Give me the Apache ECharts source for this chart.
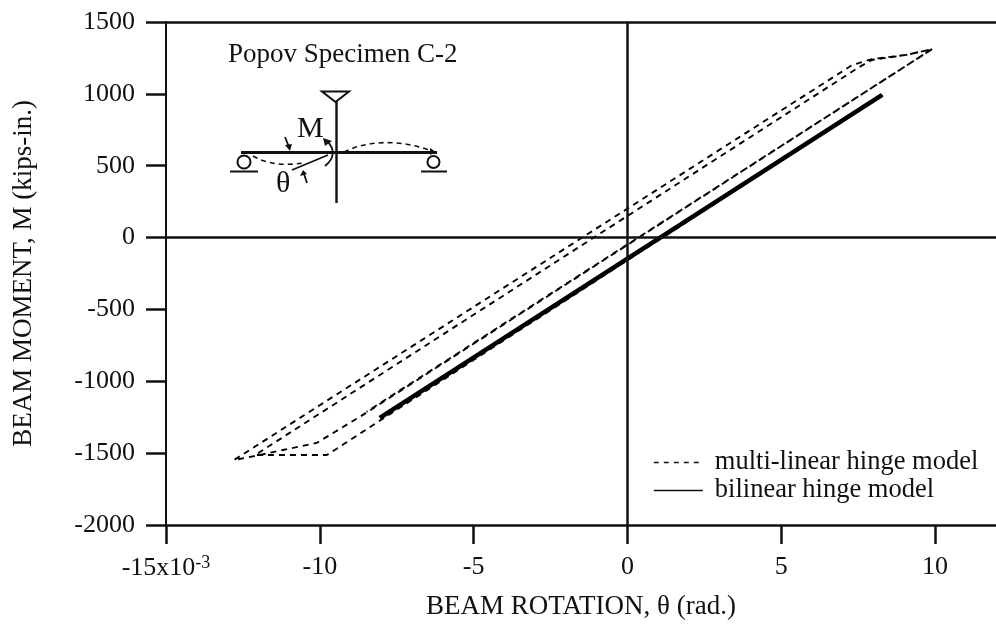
<!DOCTYPE html>
<html>
<head>
<meta charset="utf-8">
<style>html,body{margin:0;padding:0;background:#fff}#c{width:996px;height:625px}</style>
<script src="https://cdn.jsdelivr.net/npm/echarts@6/dist/echarts.min.js"></script>
</head>
<body>
<div id="c"></div>
<script>
const xTicks = [-15, -10, -5, 0, 5, 10];
const yTicks = [-2000, -1500, -1000, -500, 0, 500, 1000, 1500];
const multiTheta = [8.29, -9.77, -12.1, 7.54, 7.95, 9.06, 9.90, -8.60, -10.10, -11.20, -11.95, -12.79, 7.31, 7.95, 9.06, 9.90, -8.48];
const multiMoment = [992, -1513, -1513, 1187, 1236, 1271, 1311, -1234, -1429, -1478, -1513, -1548, 1201, 1242, 1271, 1311, -1212];
const biTheta = [-8.05, 8.28];
const biMoment = [-1255, 993];
const names = ['multi-linear hinge model', 'bilinear hinge model'];

const serif = '"Liberation Serif","Times New Roman",serif';
const ink = '#111';
const pairs = (a, b) => a.map((v, i) => [v, b[i]]);
const ln = (x1, y1, x2, y2, w) => ({ type: 'line', shape: { x1, y1, x2, y2 }, style: { stroke: ink, lineWidth: w || 2 } });
const txt = (x, y, text, size) => ({ type: 'text', x, y, style: { text, font: size + 'px ' + serif, fill: ink, textVerticalAlign: 'bottom' } });
const curve = (x1, y1, cpx1, cpy1, cpx2, cpy2, x2, y2, dash, w) => ({ type: 'bezierCurve', shape: { x1, y1, x2, y2, cpx1, cpy1, cpx2, cpy2 }, style: { stroke: ink, fill: 'none', lineWidth: w || 1.6, lineDash: dash || null } });
const head = (pts) => ({ type: 'polygon', shape: { points: pts }, style: { fill: ink } });

const chart = echarts.init(document.getElementById('c'), null, { renderer: 'canvas' });
chart.setOption({
  animation: false,
  backgroundColor: '#fff',
  grid: { left: 166, right: 0, top: 22, bottom: 100 },
  textStyle: { fontFamily: serif, color: ink },
  legend: {
    orient: 'vertical', left: 648, top: 444, itemWidth: 49, itemHeight: 14, itemGap: 1,
    textStyle: { fontFamily: serif, fontSize: 26.5, color: ink, padding: [0, 0, 0, 7] },
    data: [
      { name: names[0], itemStyle: { opacity: 0 }, lineStyle: { width: 1.4, type: [5, 5], color: ink } },
      { name: names[1], itemStyle: { opacity: 0 }, lineStyle: { width: 1.6, color: ink } }
    ]
  },
  xAxis: [{
    type: 'value', min: -15, max: 11.98, interval: 5, position: 'bottom',
    axisLine: { onZero: false, lineStyle: { color: ink, width: 2.5 } },
    axisTick: { length: 19, lineStyle: { color: ink, width: 2.5 }, customValues: xTicks },
    splitLine: { show: false },
    axisLabel: {
      margin: 29, fontSize: 26, fontFamily: serif, color: ink, customValues: xTicks,
      formatter: v => v === -15 ? '{b|-15x10}{s|-3}' : String(v),
      rich: { b: { fontSize: 26, fontFamily: serif, color: ink }, s: { fontSize: 18, fontFamily: serif, color: ink, padding: [0, 0, 11, 0] } }
    },
    name: 'BEAM ROTATION, θ (rad.)', nameLocation: 'middle', nameGap: 68,
    nameTextStyle: { fontSize: 27, fontFamily: serif, color: ink }
  }, {
    type: 'value', min: -15, max: 11.98, interval: 5, position: 'top',
    axisLine: { onZero: false, lineStyle: { color: ink, width: 2.5 } },
    axisTick: { show: false }, axisLabel: { show: false }, splitLine: { show: false }
  }],
  yAxis: {
    type: 'value', min: -2000, max: 1500, interval: 500, position: 'left',
    axisLine: { onZero: false, lineStyle: { color: ink, width: 2 } },
    axisTick: { length: 20, lineStyle: { color: ink, width: 2.5 } },
    splitLine: { show: false },
    axisLabel: { margin: 31, fontSize: 26, fontFamily: serif, color: ink, customValues: yTicks, formatter: v => String(v) },
    name: 'BEAM MOMENT, M (kips-in.)', nameLocation: 'middle', nameGap: 129,
    nameTextStyle: { fontSize: 27, fontFamily: serif, color: ink }
  },
  series: [{
    name: names[0], type: 'line', showSymbol: false, symbol: 'none', xAxisIndex: 0,
    data: pairs(multiTheta, multiMoment),
    lineStyle: { color: '#000', width: 1.9, type: [6, 5] },
    markLine: {
      silent: true, symbol: 'none', animation: false, label: { show: false },
      lineStyle: { color: ink, width: 2.5, type: 'solid' },
      data: [{ xAxis: 0 }, { yAxis: 0 }]
    }
  }, {
    name: names[1], type: 'line', showSymbol: false, symbol: 'none', xAxisIndex: 0,
    data: pairs(biTheta, biMoment),
    lineStyle: { color: '#000', width: 4.6 }
  }],
  graphic: [
    txt(228, 68, 'Popov Specimen C-2', 27),
    ln(336.5, 101, 336.5, 203, 2.4),
    { type: 'polygon', shape: { points: [[322, 91.5], [349, 91.5], [335.5, 102]] }, style: { stroke: ink, lineWidth: 2, fill: '#fff' } },
    ln(241, 152.5, 437, 152.5, 2.8),
    { type: 'circle', shape: { cx: 244, cy: 162, r: 6.5 }, style: { stroke: ink, lineWidth: 2, fill: '#fff' } },
    { type: 'circle', shape: { cx: 433.5, cy: 162, r: 6 }, style: { stroke: ink, lineWidth: 2, fill: '#fff' } },
    ln(230, 171.5, 258, 171.5, 2),
    ln(421, 171.5, 447, 171.5, 2),
    txt(297, 144, 'M', 30),
    txt(276, 199, 'θ', 30),
    curve(253, 156, 270, 166, 290, 165, 303, 163, [5, 4]),
    curve(344, 152, 370, 139, 405, 140, 434, 152, [5, 4]),
    ln(292, 170, 328, 155, 1.8),
    curve(325, 166, 335, 158, 335, 149, 327, 141, null, 1.8),
    head([[323, 138], [332, 141], [325, 146]]),
    ln(285, 137, 289, 147, 1.8),
    head([[285, 145], [292, 144], [290, 151]]),
    ln(307, 183, 304, 174, 1.8),
    head([[300, 176], [307, 174], [303, 170]]),
    head([[430, 148], [436, 152], [430, 155]])
  ]
});
</script>
</body>
</html>
